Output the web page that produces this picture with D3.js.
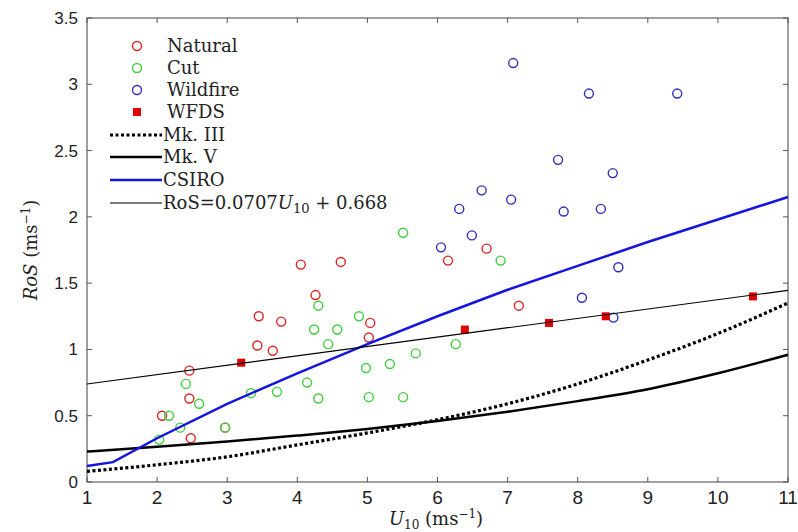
<!DOCTYPE html>
<html>
<head>
<meta charset="utf-8">
<script src="https://d3js.org/d3.v7.min.js"></script>
<style>
  html, body { margin: 0; padding: 0; background: #fff; }
  .tick-label { font-family: "Liberation Sans", Arial, sans-serif; fill: #222; }
  .serif { font-family: "DejaVu Serif", "Liberation Serif", serif; fill: #222; }
</style>
</head>
<body>
<script>
// ---- data ----
var xTicks = [1, 2, 3, 4, 5, 6, 7, 8, 9, 10, 11];
var yTicks = [0, 0.5, 1, 1.5, 2, 2.5, 3, 3.5];
var yTickLabels = ["0", "0.5", "1", "1.5", "2", "2.5", "3", "3.5"];

var naturalU   = [2.07, 2.46, 2.46, 2.48, 2.97, 3.43, 3.45, 3.65, 3.77, 4.05, 4.26, 4.62, 5.04, 5.02, 6.15, 6.70, 7.16];
var naturalRoS = [0.50, 0.84, 0.63, 0.33, 0.41, 1.03, 1.25, 0.99, 1.21, 1.64, 1.41, 1.66, 1.20, 1.09, 1.67, 1.76, 1.33];

var cutU   = [2.03, 2.17, 2.33, 2.41, 2.60, 2.97, 3.34, 3.71, 4.14, 4.30, 4.24, 4.30, 4.44, 4.57, 4.88, 4.98, 5.02, 5.32, 5.51, 5.51, 5.69, 6.26, 6.90];
var cutRoS = [0.32, 0.50, 0.41, 0.74, 0.59, 0.41, 0.67, 0.68, 0.75, 0.63, 1.15, 1.33, 1.04, 1.15, 1.25, 0.86, 0.64, 0.89, 0.64, 1.88, 0.97, 1.04, 1.67];

var wildU   = [7.08, 8.16, 9.42, 7.72, 8.50, 6.63, 7.05, 6.31, 7.80, 8.33, 6.49, 6.05, 8.58, 8.06, 8.51];
var wildRoS = [3.16, 2.93, 2.93, 2.43, 2.33, 2.20, 2.13, 2.06, 2.04, 2.06, 1.86, 1.77, 1.62, 1.39, 1.24];

var wfdsU   = [3.20, 6.39, 7.59, 8.40, 10.5];
var wfdsRoS = [0.90, 1.15, 1.20, 1.25, 1.40];

var curveU = [1, 2, 3, 4, 5, 6, 7, 8, 9, 10, 11];
var mk3RoS = [0.08, 0.13, 0.19, 0.28, 0.37, 0.47, 0.59, 0.74, 0.92, 1.12, 1.35];
var mk5RoS = [0.23, 0.265, 0.305, 0.35, 0.40, 0.46, 0.53, 0.61, 0.70, 0.82, 0.96];

var csiroU   = [1, 1.37, 2, 3, 4, 5, 6, 7, 8, 9, 10, 11];
var csiroRoS = [0.12, 0.15, 0.33, 0.59, 0.82, 1.04, 1.25, 1.45, 1.63, 1.81, 1.98, 2.15];

var fitU   = [1, 11];
var fitRoS = [0.739, 1.446];

// ---- layout ----
var W = 798, H = 532;
var margin = { top: 18, right: 10, bottom: 50, left: 87 };

var svg = d3.select("body").append("svg")
    .attr("width", W)
    .attr("height", H);

var x = d3.scaleLinear().domain([1, 11]).range([margin.left, W - margin.right]);
var y = d3.scaleLinear().domain([0, 3.5]).range([H - margin.bottom, margin.top]);

var red = "#e02424", green = "#3fcf3f", blue = "#2e2eb8";

function zip(a, b) { return a.map(function(v, i) { return [v, b[i]]; }); }

// frame and ticks
var g = svg.append("g");
g.append("rect")
    .attr("x", x(1)).attr("y", y(3.5))
    .attr("width", x(11) - x(1)).attr("height", y(0) - y(3.5))
    .attr("fill", "none").attr("stroke", "#808080").attr("stroke-width", 1.5);

var tl = 5;
xTicks.forEach(function(t) {
    g.append("line").attr("x1", x(t)).attr("x2", x(t)).attr("y1", y(0)).attr("y2", y(0) - tl)
        .attr("stroke", "#555");
    g.append("line").attr("x1", x(t)).attr("x2", x(t)).attr("y1", y(3.5)).attr("y2", y(3.5) + tl)
        .attr("stroke", "#555");
    g.append("text").attr("class", "tick-label")
        .attr("x", x(t)).attr("y", y(0) + 22)
        .attr("text-anchor", "middle")
        .attr("font-size", 19)
        .text(t);
});
yTicks.forEach(function(t, i) {
    g.append("line").attr("x1", x(1)).attr("x2", x(1) + tl).attr("y1", y(t)).attr("y2", y(t))
        .attr("stroke", "#555");
    g.append("line").attr("x1", x(11)).attr("x2", x(11) - tl).attr("y1", y(t)).attr("y2", y(t))
        .attr("stroke", "#555");
    g.append("text").attr("class", "tick-label")
        .attr("x", x(1) - 9).attr("y", y(t) + 6)
        .attr("text-anchor", "end")
        .attr("font-size", 17)
        .text(yTickLabels[i]);
});

// axis labels
var xl = svg.append("text").attr("class", "serif")
    .attr("x", 436).attr("y", 525)
    .attr("text-anchor", "middle")
    .attr("font-size", 18);
xl.append("tspan").attr("font-style", "italic").text("U");
xl.append("tspan").attr("font-size", 12).attr("dy", 4).text("10");
xl.append("tspan").attr("dy", -4).text(" (ms");
xl.append("tspan").attr("font-size", 12).attr("dy", -7).text("\u22121");
xl.append("tspan").attr("dy", 7).text(")");

var yl = svg.append("text").attr("class", "serif")
    .attr("transform", "translate(37,250) rotate(-90)")
    .attr("text-anchor", "middle")
    .attr("font-size", 18);
yl.append("tspan").attr("font-style", "italic").text("RoS");
yl.append("tspan").text(" (ms");
yl.append("tspan").attr("font-size", 12).attr("dy", -7).text("\u22121");
yl.append("tspan").attr("dy", 7).text(")");

// scatter
var plot = svg.append("g");
function circles(data, color) {
    plot.selectAll(null).data(data).enter().append("circle")
        .attr("cx", function(d) { return x(d[0]); })
        .attr("cy", function(d) { return y(d[1]); })
        .attr("r", 4.5)
        .attr("fill", "none")
        .attr("stroke", color)
        .attr("stroke-width", 1.4);
}
circles(zip(naturalU, naturalRoS), red);
circles(zip(cutU, cutRoS), green);
circles(zip(wildU, wildRoS), blue);

plot.selectAll(null).data(zip(wfdsU, wfdsRoS)).enter().append("rect")
    .attr("x", function(d) { return x(d[0]) - 4; })
    .attr("y", function(d) { return y(d[1]) - 4; })
    .attr("width", 8).attr("height", 8)
    .attr("fill", "#e00000");

// model curves
var line = d3.line()
    .x(function(d) { return x(d[0]); })
    .y(function(d) { return y(d[1]); })
    .curve(d3.curveMonotoneX);

plot.append("path").datum(zip(curveU, mk3RoS)).attr("d", line)
    .attr("fill", "none").attr("stroke", "#000").attr("stroke-width", 3.2)
    .attr("stroke-dasharray", "3,2.5");
plot.append("path").datum(zip(curveU, mk5RoS)).attr("d", line)
    .attr("fill", "none").attr("stroke", "#000").attr("stroke-width", 2.5);
plot.append("path").datum(zip(csiroU, csiroRoS)).attr("d", d3.line()
        .x(function(d) { return x(d[0]); })
        .y(function(d) { return y(d[1]); }))
    .attr("fill", "none").attr("stroke", "#1515e0").attr("stroke-width", 2.5);
plot.append("path").datum(zip(fitU, fitRoS)).attr("d", line)
    .attr("fill", "none").attr("stroke", "#000").attr("stroke-width", 1.2);

// legend
var legend = svg.append("g");
var rowY = [46, 68, 90, 112, 135, 157, 180, 203];
var fs = 18;
var markerItems = [
    { name: "Natural", color: red },
    { name: "Cut", color: green },
    { name: "Wildfire", color: blue }
];
markerItems.forEach(function(d, i) {
    legend.append("circle").attr("cx", 137).attr("cy", rowY[i]).attr("r", 4.5)
        .attr("fill", "none").attr("stroke", d.color).attr("stroke-width", 1.4);
    legend.append("text").attr("class", "serif").attr("x", 167).attr("y", rowY[i] + 6)
        .attr("font-size", fs).text(d.name);
});
legend.append("rect").attr("x", 133).attr("y", rowY[3] - 4).attr("width", 8).attr("height", 8)
    .attr("fill", "#e00000");
legend.append("text").attr("class", "serif").attr("x", 167).attr("y", rowY[3] + 6)
    .attr("font-size", fs).text("WFDS");

var lineItems = [
    { name: "Mk. III", color: "#000", w: 3.2, dash: "3,2.5" },
    { name: "Mk. V", color: "#000", w: 2.5, dash: null },
    { name: "CSIRO", color: "#1515e0", w: 2.5, dash: null }
];
lineItems.forEach(function(d, i) {
    var yy = rowY[4 + i];
    legend.append("line").attr("x1", 110).attr("x2", 162).attr("y1", yy).attr("y2", yy)
        .attr("stroke", d.color).attr("stroke-width", d.w)
        .attr("stroke-dasharray", d.dash);
    legend.append("text").attr("class", "serif").attr("x", 163).attr("y", yy + 6)
        .attr("font-size", fs).text(d.name);
});
legend.append("line").attr("x1", 110).attr("x2", 162).attr("y1", rowY[7]).attr("y2", rowY[7])
    .attr("stroke", "#000").attr("stroke-width", 1.2);
var ft = legend.append("text").attr("class", "serif").attr("x", 163).attr("y", rowY[7] + 6)
    .attr("font-size", fs);
ft.append("tspan").text("RoS=0.0707");
ft.append("tspan").attr("font-style", "italic").text("U");
ft.append("tspan").attr("font-size", 13).attr("dy", 4).text("10");
ft.append("tspan").attr("dy", -4).text(" + 0.668");
</script>
</body>
</html>
